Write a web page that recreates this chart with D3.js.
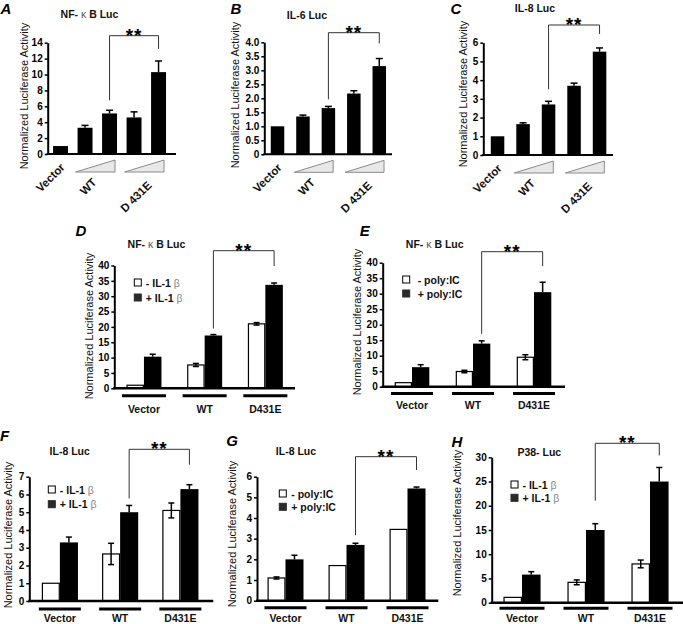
<!DOCTYPE html>
<html><head><meta charset="utf-8">
<script src="https://cdn.jsdelivr.net/npm/d3@7"></script>
<style>body{margin:0;background:#fff}svg{display:block;font-family:"Liberation Sans",Arial,sans-serif}</style>
</head><body><svg id="c" width="683" height="624"></svg>
<script>
// ---------- DATA ----------
const doseCats = ["Vector", "WT", "D 431E"];
const doseBars = ["Vector", "WT low", "WT high", "D431E low", "D431E high"];
const aValues = [1.0, 3.3, 5.1, 4.6, 10.3];
const aErrors = [0, 0.3, 0.4, 0.7, 1.4];
const bValues = [1.0, 1.35, 1.65, 2.17, 3.15];
const bErrors = [0, 0.05, 0.06, 0.1, 0.27];
const cValues = [1.0, 1.65, 2.7, 3.7, 5.52];
const cErrors = [0, 0.07, 0.17, 0.14, 0.2];
const aTicks = [0, 2, 4, 6, 8, 10, 12, 14];
const bTicks = [0, 0.5, 1.0, 1.5, 2.0, 2.5, 3.0, 3.5, 4.0];
const cTicks = [0, 1, 2, 3, 4, 5, 6];

const groupCats = ["Vector", "WT", "D431E"];
const dMinus = [1.0, 7.6, 21.0];   const dMinusErr = [0, 0.5, 0.4];
const dPlus  = [10.3, 17.2, 33.7]; const dPlusErr  = [0.8, 0.3, 0.6];
const eMinus = [1.3, 4.9, 9.5];    const eMinusErr = [0, 0.4, 0.8];
const ePlus  = [6.3, 13.9, 30.5];  const ePlusErr  = [0.8, 0.9, 3.2];
const fMinus = [1.0, 2.65, 5.1];   const fMinusErr = [0, 0.6, 0.42];
const fPlus  = [3.3, 5.0, 6.3];    const fPlusErr  = [0.3, 0.38, 0.25];
const gMinus = [1.1, 1.7, 3.45];   const gMinusErr = [0.05, 0, 0];
const gPlus  = [2.0, 2.7, 5.43];   const gPlusErr  = [0.2, 0.08, 0.07];
const hMinus = [1.1, 4.2, 8.0];    const hMinusErr = [0, 0.5, 0.8];
const hPlus  = [5.8, 15.0, 25.0];  const hPlusErr  = [0.6, 1.3, 2.9];
const dTicks = [0, 5, 10, 15, 20, 25, 30, 35, 40];
const fTicks = [0, 1, 2, 3, 4, 5, 6, 7];
const gTicks = [0, 1, 2, 3, 4, 5, 6];
const hTicks = [0, 5, 10, 15, 20, 25, 30];

// ---------- DRAWING ----------
const svg = d3.select("#c");
const FONT = '"Liberation Sans",Arial,sans-serif';

function styleAxis(sel) {
  sel.attr("font-family", FONT).attr("font-size", 10).attr("font-weight", "bold");
  sel.select(".domain").attr("stroke", "#000").attr("stroke-width", 2);
  sel.selectAll(".tick line").attr("stroke", "#000").attr("stroke-width", 1.5);
  sel.selectAll(".tick text").attr("fill", "#000");
}

function common(g, c, y) {
  const ax = d3.axisLeft(y).tickValues(c.ticks).tickFormat(c.fmt || (d => d))
    .tickSize(3).tickPadding(2).tickSizeOuter(0);
  g.append("g").attr("transform", `translate(${c.axisX},0)`).call(ax).call(styleAxis);
  g.append("line").attr("x1", c.axisX - 1).attr("x2", c.axisEnd)
    .attr("y1", y(0)).attr("y2", y(0)).attr("stroke", "#000").attr("stroke-width", c.xw || 2);
  g.append("text").attr("transform", `translate(${c.ylab[0]},${c.ylab[1]}) rotate(-90)`)
    .attr("text-anchor", "middle").attr("dominant-baseline", "central")
    .attr("font-size", 11).attr("fill", "#111").text("Normalized Luciferase Activity");
  g.append("text").attr("x", c.letterPos[0]).attr("y", c.letterPos[1])
    .attr("text-anchor", "middle").attr("dominant-baseline", "central")
    .attr("font-size", 15).attr("font-weight", "bold").attr("font-style", "italic").text(c.letter);
  const t = g.append("text").attr("x", c.titlePos[0]).attr("y", c.titlePos[1])
    .attr("text-anchor", "middle").attr("dominant-baseline", "central")
    .attr("font-size", 10.5).attr("font-weight", "bold").attr("fill", "#111");
  if (c.title.includes("κ")) {
    const parts = c.title.split("κ");
    t.append("tspan").text(parts[0]);
    t.append("tspan").attr("font-weight", "normal").attr("fill", "#555").text("κ");
    t.append("tspan").text(parts[1]);
  } else t.text(c.title);
}

function errBar(g, cx, y, v, e, cap, both) {
  if (!e) return;
  const lo = both ? v - e : v;
  g.append("line").attr("x1", cx).attr("x2", cx).attr("y1", y(lo)).attr("y2", y(v + e))
    .attr("stroke", "#000").attr("stroke-width", 1.5);
  g.append("line").attr("x1", cx - cap / 2).attr("x2", cx + cap / 2).attr("y1", y(v + e)).attr("y2", y(v + e))
    .attr("stroke", "#000").attr("stroke-width", 1.5);
  if (both) g.append("line").attr("x1", cx - cap / 2).attr("x2", cx + cap / 2).attr("y1", y(lo)).attr("y2", y(lo))
    .attr("stroke", "#000").attr("stroke-width", 1.5);
}

function bracket(g, xl, xr, yl, yr, top) {
  g.append("path").attr("d", `M${xl},${yl}V${top}H${xr}V${yr}`)
    .attr("fill", "none").attr("stroke", "#333").attr("stroke-width", 1);
  const fs = 19;
  g.append("text").attr("x", (xl + xr) / 2).attr("y", top - 5 + 0.58 * fs)
    .attr("text-anchor", "middle").attr("font-size", fs).attr("font-weight", "bold")
    .attr("letter-spacing", 1).text("**");
}

function dosePanel(c) {
  const g = svg.append("g");
  const x = d3.scaleBand().domain(d3.range(c.vals.length)).range(c.xr).paddingInner(c.pi).paddingOuter(c.pi / 2);
  const y = d3.scaleLinear().domain([0, c.max]).range(c.yr);
  const cx = i => x(i) + x.bandwidth() / 2;
  g.selectAll("rect.bar").data(c.vals).join("rect").attr("class", "bar")
    .attr("x", (d, i) => x(i)).attr("y", d => y(d)).attr("width", x.bandwidth())
    .attr("height", d => y(0) - y(d)).attr("fill", "#000");
  c.vals.forEach((v, i) => errBar(g, cx(i), y, v, c.errs[i], 7, false));
  common(g, c, y);
  [[1, 2], [3, 4]].forEach(([a, b]) => {
    const x0 = x(a) - 2, x1 = x(b) + x.bandwidth() - 2, yb = y(0) + 18, yt = y(0) + 6;
    g.append("path").attr("d", `M${x0},${yb}L${x1},${yb}L${x1},${yt}Z`)
      .attr("fill", "#e8e8e8").attr("stroke", "#8a8a8a").attr("stroke-width", 1);
  });
  const pos = [
    [cx(0) + 5, y(0) + 14],
    [(x(1) + x(2) + x.bandwidth()) / 2, y(0) + 29],
    [(x(3) + x(4) + x.bandwidth()) / 2 + 6, y(0) + 32]
  ];
  doseCats.forEach((t, i) => {
    g.append("text").attr("transform", `translate(${pos[i][0]},${pos[i][1]}) rotate(-45)`)
      .attr("text-anchor", "end").attr("font-size", 11.5).attr("font-weight", "bold").attr("fill", "#111").text(t);
  });
  const top = c.vals.map((v, i) => y(v + c.errs[i]));
  bracket(g, cx(2), cx(4), top[2] - c.gaps[0], top[4] - c.gaps[1], c.bTop);
}

function groupPanel(c) {
  const g = svg.append("g");
  const x0 = d3.scaleBand().domain(groupCats).range(c.xr).paddingInner(c.pi).paddingOuter(c.pi / 2);
  const x1 = d3.scaleBand().domain(["minus", "plus"]).range([0, x0.bandwidth()]);
  const y = d3.scaleLinear().domain([0, c.max]).range(c.yr);
  const rows = groupCats.map((k, i) => ({ k, m: c.minus[i], me: c.minusErr[i], p: c.plus[i], pe: c.plusErr[i] }));
  const gg = g.selectAll("g.grp").data(rows).join("g").attr("class", "grp")
    .attr("transform", d => `translate(${x0(d.k)},0)`);
  gg.append("rect").attr("x", x1("minus") + 0.6).attr("y", d => y(d.m)).attr("width", x1.bandwidth() - 1.2)
    .attr("height", d => y(0) - y(d.m)).attr("fill", "#fff").attr("stroke", "#000").attr("stroke-width", 1.2);
  gg.append("rect").attr("x", x1("plus")).attr("y", d => y(d.p)).attr("width", x1.bandwidth())
    .attr("height", d => y(0) - y(d.p)).attr("fill", "#000");
  const bc = (k, s) => x0(k) + x1(s) + x1.bandwidth() / 2;
  rows.forEach(d => {
    errBar(g, bc(d.k, "minus"), y, d.m, d.me, 6, true);
    errBar(g, bc(d.k, "plus"), y, d.p, d.pe, 6, false);
  });
  common(g, c, y);
  groupCats.forEach(k => {
    const mid = x0(k) + x0.bandwidth() / 2;
    g.append("line").attr("x1", mid - c.ulw / 2).attr("x2", mid + c.ulw / 2)
      .attr("y1", y(0) + c.ulOff).attr("y2", y(0) + c.ulOff).attr("stroke", "#000").attr("stroke-width", 3);
    g.append("text").attr("x", mid).attr("y", y(0) + c.labOff).attr("text-anchor", "middle")
      .attr("dominant-baseline", "central").attr("font-size", 10.5).attr("font-weight", "bold").attr("fill", "#111").text(k);
  });
  c.legend.forEach((t, i) => {
    const ly = c.lg[1] + i * c.lgStep;
    g.append("rect").attr("x", c.lg[0]).attr("y", ly).attr("width", 7).attr("height", 7)
      .attr("fill", i ? "#2a2a2a" : "#fff").attr("stroke", i ? "#2a2a2a" : "#000").attr("stroke-width", 1);
    const tx = g.append("text").attr("x", c.lg[0] + c.lgOff).attr("y", ly + 3.5).attr("dominant-baseline", "central")
      .attr("font-size", 10.5).attr("font-weight", "bold").attr("fill", "#111");
    if (t.includes("β")) {
      tx.append("tspan").text(t.replace("β", ""));
      tx.append("tspan").attr("font-weight", "normal").attr("fill", "#888").text("β");
    } else tx.text(t);
  });
  bracket(g, bc("WT", "plus"), bc("D431E", "plus"),
    y(c.plus[1] + c.plusErr[1]) - c.gaps[0], y(c.plus[2] + c.plusErr[2]) - c.gaps[1], c.bTop);
}

const fmt1 = d => d === 0 ? "0" : d3.format(".1f")(d);
const il1 = ["- IL-1 β", "+ IL-1 β"];
const poly = ["- poly:IC", "+ poly:IC"];

dosePanel({ letter: "A", title: "NF- κ B Luc", vals: aValues, errs: aErrors, ticks: aTicks, max: 14,
  yr: [154, 42.7], xr: [48.3, 170.8], pi: 0.39, axisX: 47.7, axisEnd: 176,
  ylab: [24, 96], letterPos: [6, 8.5], titlePos: [89.5, 14], bTop: 35.7, gaps: [10, 12] });
dosePanel({ letter: "B", title: "IL-6 Luc", vals: bValues, errs: bErrors, ticks: bTicks, fmt: fmt1, max: 4,
  yr: [154.3, 42.3], xr: [264.8, 392], pi: 0.47, axisX: 264.3, axisEnd: 392,
  ylab: [235, 95], letterPos: [236, 8], titlePos: [307, 15], bTop: 32.7, gaps: [7, 15] });
dosePanel({ letter: "C", title: "IL-8 Luc", vals: cValues, errs: cErrors, ticks: cTicks, max: 6,
  yr: [155, 42.7], xr: [484.8, 612.3], pi: 0.47, axisX: 483.3, axisEnd: 613,
  ylab: [462.7, 94], letterPos: [456, 8.5], titlePos: [535, 7.5], bTop: 25, gaps: [12, 14] });

groupPanel({ letter: "D", title: "NF- κ B Luc", minus: dMinus, minusErr: dMinusErr, plus: dPlus, plusErr: dPlusErr,
  ticks: dTicks, max: 40, yr: [388.3, 265.5], xr: [113.6, 295.7], pi: 0.423, axisX: 114.3, axisEnd: 295, xw: 2.5,
  ylab: [89.3, 326], letterPos: [81, 230.5], titlePos: [156.5, 244.3], bTop: 250.7, gaps: [6, 17],
  ulw: 44, ulOff: 7.5, labOff: 21, legend: il1, lg: [134.3, 279], lgStep: 15, lgOff: 11.5 });
groupPanel({ letter: "E", title: "NF- κ B Luc", minus: eMinus, minusErr: eMinusErr, plus: ePlus, plusErr: ePlusErr,
  ticks: dTicks, max: 40, yr: [386.7, 262.7], xr: [381.5, 564.5], pi: 0.433, axisX: 382.7, axisEnd: 565, xw: 2.5,
  ylab: [356.7, 322], letterPos: [364.7, 230.5], titlePos: [434.7, 244], bTop: 251.7, gaps: [7, 16],
  ulw: 42, ulOff: 6.8, labOff: 18.3, legend: poly, lg: [402.7, 276], lgStep: 14, lgOff: 15 });
groupPanel({ letter: "F", title: "IL-8 Luc", minus: fMinus, minusErr: fMinusErr, plus: fPlus, plusErr: fPlusErr,
  ticks: fTicks, max: 7, yr: [601, 476.7], xr: [29.75, 210.5], pi: 0.4, axisX: 29.3, axisEnd: 213.3, xw: 2.5,
  ylab: [8.3, 535], letterPos: [4.7, 435.3], titlePos: [69.7, 451], bTop: 449.3, gaps: [7, 20],
  ulw: 42, ulOff: 8, labOff: 16.5, legend: il1, lg: [48.3, 486], lgStep: 14.7, lgOff: 11.5 });
groupPanel({ letter: "G", title: "IL-8 Luc", minus: gMinus, minusErr: gMinusErr, plus: gPlus, plusErr: gPlusErr,
  ticks: gTicks, max: 6, yr: [600.7, 476.7], xr: [255, 438], pi: 0.41, axisX: 257, axisEnd: 438.3, xw: 2.5,
  ylab: [231.7, 534], letterPos: [232, 440.5], titlePos: [296, 451], bTop: 456.7, gaps: [8, 17],
  ulw: 42, ulOff: 7, labOff: 16.8, legend: poly, lg: [279.3, 490], lgStep: 13.3, lgOff: 12 });
groupPanel({ letter: "H", title: "P38- Luc", minus: hMinus, minusErr: hMinusErr, plus: hPlus, plusErr: hPlusErr,
  ticks: hTicks, max: 30, yr: [602.7, 457.3], xr: [490, 682], pi: 0.42, axisX: 491.7, axisEnd: 683, xw: 2.5,
  ylab: [456.7, 523], letterPos: [457, 441], titlePos: [539.3, 452.3], bTop: 443.3, gaps: [23, 12],
  ulw: 45, ulOff: 5.6, labOff: 14.8, legend: il1, lg: [511, 481], lgStep: 13.3, lgOff: 11.5 });
</script></body></html>
